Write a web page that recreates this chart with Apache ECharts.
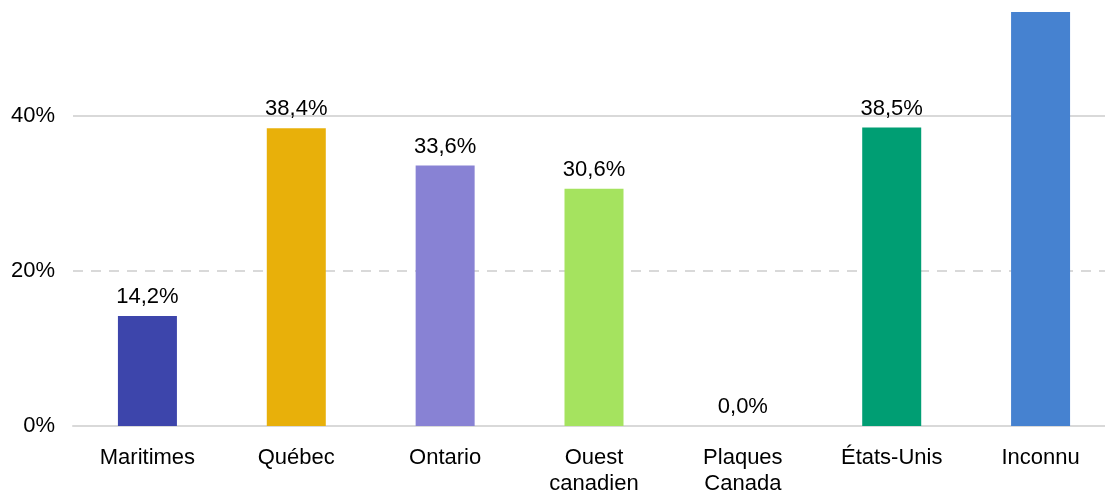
<!DOCTYPE html>
<html><head><meta charset="utf-8">
<script src="https://cdn.jsdelivr.net/npm/echarts@6/dist/echarts.min.js"></script>
<style>html,body{margin:0;padding:0;background:#fff}#c{width:1105px;height:493px}</style>
</head><body><div id="c"></div>
<script>
const categories = ['Maritimes', 'Québec', 'Ontario', 'Ouest\ncanadien', 'Plaques\nCanada', 'États-Unis', 'Inconnu'];
const values = [14.2, 38.4, 33.6, 30.6, 0.0, 38.5, 60.0];
const colors = ['#3d45ab', '#e8b00a', '#8882d4', '#a5e35f', '#999999', '#009e73', '#4682d0'];
const showLabel = [true, true, true, true, true, true, false];
const yTicks = [0, 20, 40];
const yMax = 53.4;

const chart = echarts.init(document.getElementById('c'));
chart.setOption({
  animation: false,
  grid: {left: 73, right: -10, top: 12, bottom: 67, outerBoundsMode: 'none', containLabel: false},
  xAxis: {
    type: 'category', data: categories,
    axisLine: {lineStyle: {color: '#d9d9d9', width: 2}},
    axisTick: {show: false},
    axisLabel: {color: '#000', fontFamily: 'Liberation Sans', fontSize: 22, lineHeight: 26, margin: 19}
  },
  yAxis: {
    type: 'value', min: 0, max: yMax, interval: 20,
    axisLabel: {color: '#000', fontFamily: 'Liberation Sans', fontSize: 22, margin: 18, showMaxLabel: false,
      formatter: v => yTicks.includes(v) ? v + '%' : ''},
    splitLine: {show: true, showMaxLine: false, lineStyle: {color: '#d9d9d9', type: [10, 8], width: 2}},
    axisLine: {show: false}, axisTick: {show: false}
  },
  series: [{
    type: 'bar', barWidth: 59, clip: true,
    data: values.map((v, i) => ({value: v, itemStyle: {color: colors[i]},
      label: {show: showLabel[i]}})),
    label: {position: 'top', distance: 8, color: '#000', fontFamily: 'Liberation Sans', fontSize: 22,
      formatter: p => p.value.toFixed(1).replace('.', ',') + '%'},
    markLine: {
      silent: true, symbol: 'none', label: {show: false}, z: 1,
      lineStyle: {color: '#d9d9d9', type: 'solid', width: 2},
      data: [{yAxis: 40}]
    }
  }]
});
</script></body></html>
